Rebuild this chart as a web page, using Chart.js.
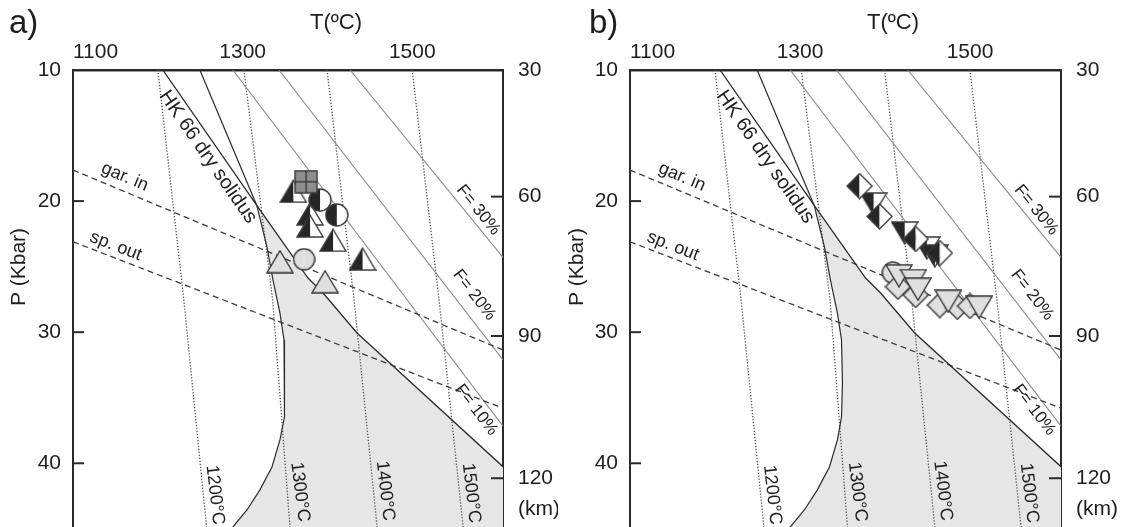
<!DOCTYPE html>
<html>
<head>
<meta charset="utf-8">
<script src="https://cdn.jsdelivr.net/npm/chart.js@4.4.1/dist/chart.umd.min.js"></script>
<style>
  html, body { margin: 0; padding: 0; background: #fff; }
  #wrap { position: relative; width: 1132px; height: 527px; overflow: hidden; }
  canvas { position: absolute; top: 0; }
  #panelA { left: 0; }
  #panelB { left: 558px; }
</style>
</head>
<body>
<div id="wrap">
  <canvas id="panelA" width="558" height="527"></canvas>
  <canvas id="panelB" width="574" height="527"></canvas>
</div>
<script>
const FONT = '"Liberation Sans", Arial, Helvetica, sans-serif';

// axes: temperature (°C) on top, pressure (kbar) down, depth (km) on the right
const tempRange = [1100, 1607];
const presRange = [10, 44.86];
const tempTicks = [1100, 1300, 1500];
const presTicks = [10, 20, 30, 40];
const depthTicks = [30, 60, 90, 120];
const depthTickPres = [10, 19.66, 30.29, 41.14];

// mantle adiabats [T, P]
const adiabat1200 = [[1200, 10], [1230.7, 27.54], [1257.5, 44.86]];
const adiabat1300 = [[1301.5, 10], [1335.4, 27.54], [1355.8, 44.86]];
const adiabat1400 = [[1399.5, 10], [1431.4, 27.54], [1458.6, 44.86]];
const adiabat1500 = [[1499.9, 10], [1531.6, 27.54], [1560, 44.86]];
const adiabatNames = ['1200°C', '1300°C', '1400°C', '1500°C'];

// melt fraction isopleths
const melt10 = [[1288.5, 10], [1607, 37.16]];
const melt20 = [[1342.9, 10], [1607, 32.12]];
const melt30 = [[1426.7, 10], [1607, 24.3]];

// phase boundaries
const garnetIn = [[1100, 17.63], [1607, 31.36]];
const spinelOut = [[1100, 23.10], [1607, 35.8]];

// solidi
const solidusHK66 = [[1205.9, 10], [1316.7, 20.33], [1377.1, 25.87], [1394.8, 27.01],
  [1434.9, 30.06], [1607.3, 40.28]];
const solidusB = [[1249.6, 10], [1316.7, 20.33], [1328.7, 23.5], [1335.8, 26.02], [1344, 28.54],
  [1348.8, 30.59], [1349.9, 33.87], [1348.8, 36.47], [1344, 38.22], [1334.6, 40.28],
  [1320.4, 42.03], [1305.1, 43.56], [1288.5, 44.86]];

// samples, panel a
const aHalfTri = [[1359.7, 19.25], [1379.5, 20.98], [1379.5, 21.9], [1406.6, 22.99], [1441.4, 24.42]];
const aHalfCircle = [[1391.3, 19.92], [1411.0, 21.06]];
const aSquare = [[1374.8, 18.52]];
const aGrayTri = [[1344.0, 24.62], [1397.2, 26.15]];
const aGrayCircle = [[1372.5, 24.44]];

// samples, panel b
const bHalfDiamond = [[1370.0, 18.85], [1393.6, 21.17], [1436.1, 22.89], [1464.5, 23.96]];
const bHalfDownTri = [[1386.5, 20.22], [1423.1, 22.43], [1449.1, 23.58], [1458.6, 24.19]];
const bGrayCircle = [[1409.3, 25.46]];
const bGrayDownTri = [[1416.4, 25.7], [1433.4, 26.06], [1438.8, 26.72], [1474.3, 27.64], [1510.8, 28.09]];
const bGrayDiamond = [[1415.2, 26.53], [1436.1, 27.16], [1464.5, 27.93], [1485.1, 28.06], [1499.9, 28.0]];

// text placed along the curves (angle taken from the first segment)
const curveLabels = [
  { text: 'HK 66 dry solidus', at: [1259.0, 16.64], along: solidusHK66, size: 20 },
  { text: 'gar. in', at: [1161.2, 18.16], along: garnetIn, size: 18 },
  { text: 'sp. out', at: [1150.5, 23.43], along: spinelOut, size: 18 },
  { text: 'F= 30%', at: [1577.8, 20.68], along: melt30, size: 17 },
  { text: 'F= 20%', at: [1573.1, 27.16], along: melt20, size: 17 },
  { text: 'F= 10%', at: [1575.4, 35.93], along: melt10, size: 17 },
  { text: adiabatNames[0], at: [1267.3, 42.42], along: adiabat1200, size: 18 },
  { text: adiabatNames[1], at: [1367.6, 42.19], along: adiabat1300, size: 18 },
  { text: adiabatNames[2], at: [1468.0, 42.11], along: adiabat1400, size: 18 },
  { text: adiabatNames[3], at: [1569.5, 42.27], along: adiabat1500, size: 18 }
];

const BLACK = '#262626', WHITE = '#ffffff', LIGHT = '#dfdfdf', EDGE = '#3a3a3a';

function marker(shape, fillL, fillR, w, h) {
  const c = document.createElement('canvas');
  c.width = w; c.height = h;
  const g = c.getContext('2d');
  const path = () => {
    g.beginPath();
    if (shape === 'up') { g.moveTo(w / 2, 1); g.lineTo(w - 1, h - 1); g.lineTo(1, h - 1); }
    else if (shape === 'down') { g.moveTo(1, 1); g.lineTo(w - 1, 1); g.lineTo(w / 2, h - 1); }
    else if (shape === 'diamond') { g.moveTo(w / 2, 1); g.lineTo(w - 1, h / 2); g.lineTo(w / 2, h - 1); g.lineTo(1, h / 2); }
    else if (shape === 'circle') { g.arc(w / 2, h / 2, w / 2 - 1, 0, Math.PI * 2); }
    else { g.rect(1, 1, w - 2, h - 2); }
    g.closePath();
  };
  g.save(); path(); g.clip();
  g.fillStyle = fillL; g.fillRect(0, 0, w / 2, h);
  g.fillStyle = fillR; g.fillRect(w / 2, 0, w / 2, h);
  g.restore();
  g.strokeStyle = EDGE; g.lineWidth = 1.4;
  if (shape === 'square') {
    g.beginPath(); g.moveTo(w / 2, 1); g.lineTo(w / 2, h - 1); g.moveTo(1, h / 2); g.lineTo(w - 1, h / 2); g.stroke();
  }
  path(); g.stroke();
  return c;
}

const mHalfTri = marker('up', BLACK, WHITE, 28, 24);
const mHalfDownTri = marker('down', BLACK, WHITE, 28, 24);
const mHalfDiamond = marker('diamond', BLACK, WHITE, 27, 27);
const mHalfCircle = marker('circle', BLACK, WHITE, 24, 24);
const mSquare = marker('square', '#8e8e8e', '#8e8e8e', 24, 24);
const mGrayTri = marker('up', LIGHT, LIGHT, 28, 24);
const mGrayDownTri = marker('down', LIGHT, LIGHT, 28, 24);
const mGrayDiamond = marker('diamond', LIGHT, LIGHT, 27, 27);
const mGrayCircle = marker('circle', LIGHT, LIGHT, 23, 23);

const xy = pts => pts.map(p => ({ x: p[0], y: p[1] }));

function lineDs(points, color, width, dash) {
  return { data: xy(points), showLine: true, borderColor: color, borderWidth: width, borderDash: dash || [],
    pointRadius: 0, fill: false, tension: 0, order: 5 };
}
function markerDs(points, img, order) {
  return { data: xy(points), showLine: false, pointStyle: img, pointRadius: 12, order: order };
}

// grey melting field, built from the two solidi
function meltField() {
  const left = solidusB.slice(1);
  const right = solidusHK66.slice(1).reverse();
  const pts = left.concat([[tempRange[1], presRange[1]], [tempRange[1], solidusHK66[solidusHK66.length - 1][1]]], right);
  return { data: xy(pts), showLine: true, borderWidth: 0, borderColor: 'rgba(0,0,0,0)', backgroundColor: '#e6e6e6',
    fill: 'shape', pointRadius: 0, tension: 0, order: 20 };
}

// no label padding: the plot frame is fixed
function noPad(s) { s.paddingTop = 0; s.paddingBottom = 0; s.paddingLeft = 0; s.paddingRight = 0; }

const overlay = {
  id: 'overlay',
  afterDatasetsDraw(chart) {
    const ctx = chart.ctx, sx = chart.scales.x, sy = chart.scales.y;
    ctx.save();
    ctx.fillStyle = '#222';
    curveLabels.forEach(l => {
      const a = l.along[0], b = l.along[1];
      const ang = Math.atan2(sy.getPixelForValue(b[1]) - sy.getPixelForValue(a[1]),
                             sx.getPixelForValue(b[0]) - sx.getPixelForValue(a[0]));
      ctx.save();
      ctx.translate(sx.getPixelForValue(l.at[0]), sy.getPixelForValue(l.at[1]));
      ctx.rotate(ang);
      ctx.font = l.size + 'px ' + FONT;
      ctx.textAlign = 'center'; ctx.textBaseline = 'middle';
      ctx.fillText(l.text, 0, 0);
      ctx.restore();
    });
    ctx.restore();
  },
  afterDraw(chart, args, opts) {
    const ctx = chart.ctx, area = chart.chartArea, sy = chart.scales.y, sd = chart.scales.yD;
    ctx.save();
    ctx.strokeStyle = '#2a2a2a'; ctx.lineWidth = 2;
    presTicks.slice(1).forEach(v => {
      const py = sy.getPixelForValue(v);
      ctx.beginPath(); ctx.moveTo(area.left, py); ctx.lineTo(area.left + 11, py); ctx.stroke();
    });
    depthTickPres.slice(1).forEach(v => {
      const py = sd.getPixelForValue(v);
      ctx.beginPath(); ctx.moveTo(area.right, py); ctx.lineTo(area.right - 12, py); ctx.stroke();
    });
    ctx.fillStyle = '#1e1e1e';
    ctx.font = '21px ' + FONT;
    ctx.textAlign = 'left'; ctx.textBaseline = 'middle';
    ctx.fillText('(km)', area.right + 15, sd.getPixelForValue(depthTickPres[3]) + 31);
    ctx.font = '22px ' + FONT;
    ctx.textAlign = 'center';
    ctx.fillText('T(ºC)', area.left + 263, 23);
    ctx.save();
    ctx.translate(19, 267); ctx.rotate(-Math.PI / 2);
    ctx.font = '21px ' + FONT;
    ctx.fillText('P (Kbar)', 0, 0);
    ctx.restore();
    ctx.font = '33px ' + FONT;
    ctx.textAlign = 'left';
    ctx.fillText(opts.letter, opts.letterX, 24);
    ctx.restore();
  }
};

function makePanel(id, letter, letterX, leftW, markers) {
  const canvas = document.getElementById(id);
  const tickFont = { family: FONT, size: 21 };
  const border = { display: true, color: '#2a2a2a', width: 2 };
  const datasets = [
    lineDs(solidusHK66, '#2b2b2b', 1.3),
    lineDs(solidusB, '#2b2b2b', 1.2),
    lineDs(garnetIn, '#3c3c3c', 1.3, [6, 4]),
    lineDs(spinelOut, '#3c3c3c', 1.3, [6, 4]),
    lineDs(melt10, '#8a8a8a', 1.1),
    lineDs(melt20, '#8a8a8a', 1.1),
    lineDs(melt30, '#8a8a8a', 1.1),
    lineDs(adiabat1200, '#555', 1.3, [1.3, 1.7]),
    lineDs(adiabat1300, '#555', 1.3, [1.3, 1.7]),
    lineDs(adiabat1400, '#555', 1.3, [1.3, 1.7]),
    lineDs(adiabat1500, '#555', 1.3, [1.3, 1.7]),
    meltField()
  ].concat(markers);
  return new Chart(canvas, {
    type: 'scatter',
    data: { datasets: datasets },
    plugins: [overlay],
    options: {
      responsive: false,
      animation: false,
      events: [],
      layout: { padding: 0, autoPadding: false },
      plugins: { legend: { display: false }, tooltip: { enabled: false }, overlay: { letter: letter, letterX: letterX } },
      scales: {
        x: {
          type: 'linear', position: 'top', min: tempRange[0], max: tempRange[1],
          afterBuildTicks: s => { s.ticks = tempTicks.concat([tempRange[1]]).map(v => ({ value: v })); },
          ticks: { autoSkip: false, align: 'inner', maxRotation: 0, padding: 5, color: '#1e1e1e', font: tickFont,
                   callback: v => tempTicks.includes(v) ? String(v) : '' },
          grid: { display: false, drawTicks: false },
          border: { display: true, color: '#2a2a2a', width: 2.6 },
          afterFit: s => { s.height = 70; noPad(s); }
        },
        y: {
          type: 'linear', position: 'left', reverse: true, min: presRange[0], max: presRange[1],
          afterBuildTicks: s => { s.ticks = presTicks.map(v => ({ value: v })); },
          ticks: { autoSkip: false, padding: 12, color: '#1e1e1e', font: tickFont },
          grid: { display: false, drawTicks: false },
          border: border,
          afterFit: s => { s.width = leftW; noPad(s); }
        },
        yD: {
          type: 'linear', position: 'right', reverse: true, min: presRange[0], max: presRange[1],
          afterBuildTicks: s => { s.ticks = depthTickPres.map(v => ({ value: v })); },
          ticks: { autoSkip: false, padding: 15, color: '#1e1e1e', font: tickFont,
                   callback: (v, i) => String(depthTicks[i]) },
          grid: { display: false, drawTicks: false },
          border: border,
          afterFit: s => { s.width = canvas.width - 503; noPad(s); }
        }
      }
    }
  });
}

makePanel('panelA', 'a)', 9, 73, [
  markerDs(aSquare, mSquare, 1),
  markerDs(aHalfCircle, mHalfCircle, 2),
  markerDs(aHalfTri, mHalfTri, 3),
  markerDs(aGrayCircle, mGrayCircle, 3),
  markerDs(aGrayTri, mGrayTri, 3)
]);

makePanel('panelB', 'b)', 31, 72, [
  markerDs(bHalfDiamond, mHalfDiamond, 1),
  markerDs(bHalfDownTri, mHalfDownTri, 2),
  markerDs(bGrayDownTri, mGrayDownTri, 3),
  markerDs(bGrayDiamond, mGrayDiamond, 4),
  markerDs(bGrayCircle, mGrayCircle, 4)
]);
</script>
</body>
</html>
